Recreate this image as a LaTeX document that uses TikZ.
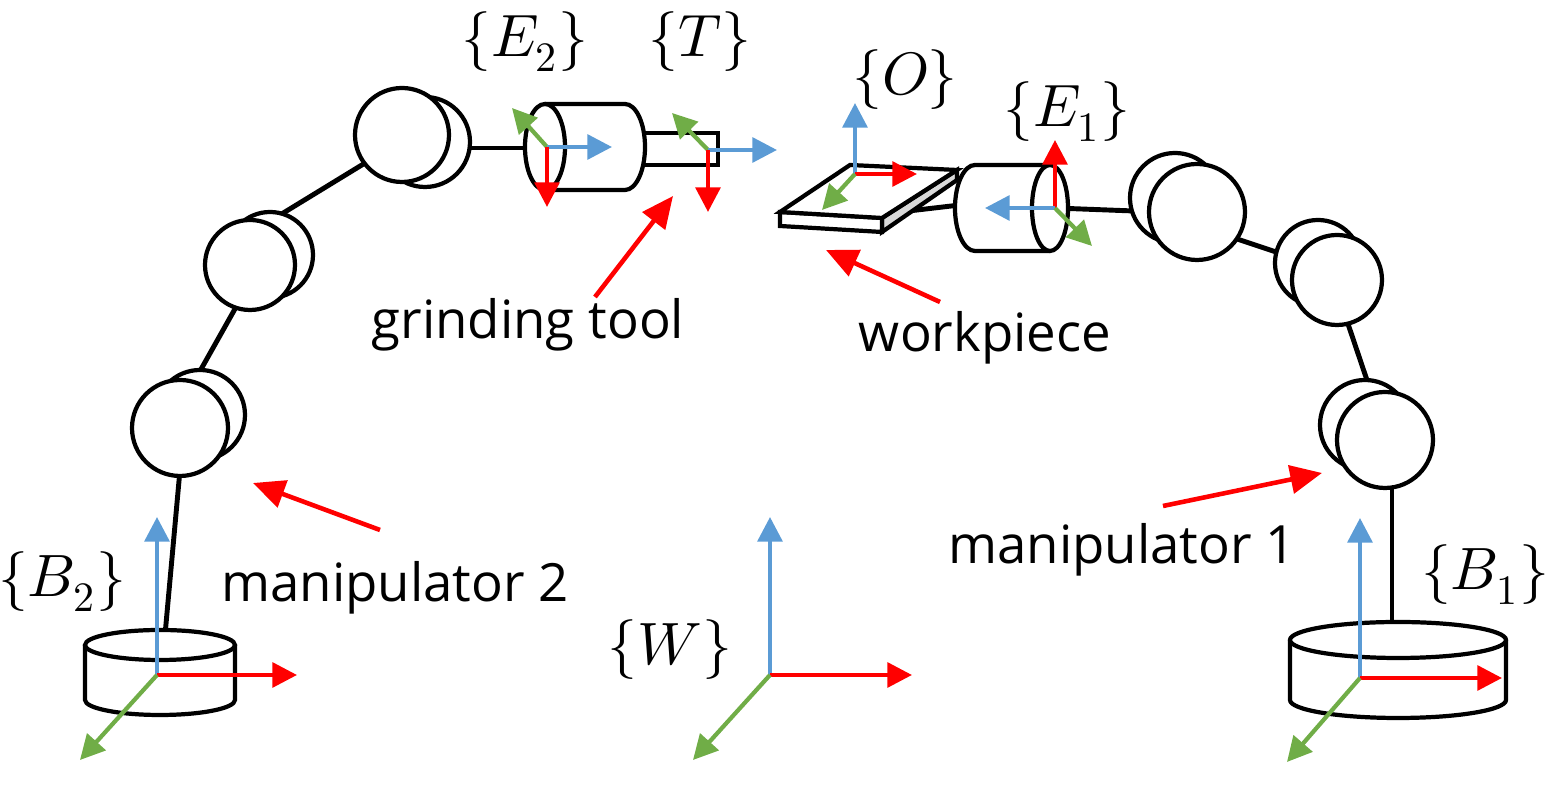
\documentclass[tikz,border=0pt]{standalone}
\usepackage{fontspec}
\setmainfont{Open Sans}
\usepackage{unicode-math}
\setmathfont{Latin Modern Math}
\usetikzlibrary{arrows.meta}
\definecolor{ax}{HTML}{5B9BD5}
\definecolor{ay}{HTML}{70AD47}
\definecolor{az}{HTML}{FF0000}
\begin{document}
\begin{tikzpicture}[x=0.01cm,y=-0.01cm,
  part/.style={draw=black,line width=1.2pt,fill=white},
  link/.style={draw=black,line width=1.4pt},
  axis/.style={line width=1.2pt,-{Triangle[length=7pt,width=7pt]}},
  bx/.style={axis,ax},gx/.style={axis,ay},rx/.style={axis,az},
  ptr/.style={line width=1.3pt,az,-{Triangle[length=9pt,width=8pt]}},
  lab/.style={font=\fontsize{15}{18}\selectfont},
  frm/.style={font=\fontsize{17}{20}\selectfont}]
\useasboundingbox (0,0) rectangle (1553,786);
% links
\draw[link] (165,635) -- (180,470);
\draw[link] (195,380) -- (240,300);
\draw[link] (280,215) -- (370,160);
\draw[link] (445,148) -- (535,148);
\draw[link] (900,212) -- (960,205);
\draw[link] (1055,208) -- (1160,212);
\draw[link] (1225,235) -- (1300,260);
\draw[link] (1345,315) -- (1372,395);
\draw[link] (1392,480) -- (1392,630);
% left base
\draw[part] (85,645) -- (85,700) arc[start angle=180,end angle=0,x radius=75,y radius=15] -- (235,645);
\draw[part] (160,645) ellipse[x radius=75,y radius=15];
% right base
\draw[part] (1290,640) -- (1290,700) arc[start angle=180,end angle=0,x radius=108,y radius=18] -- (1506,640);
\draw[part] (1398,640) ellipse[x radius=108,y radius=18];
% left joints
\draw[part] (200,415) circle[radius=45]; \draw[part] (180,428) circle[radius=48];
\draw[part] (270,255) circle[radius=43]; \draw[part] (250,265) circle[radius=45];
\draw[part] (425,142) circle[radius=45]; \draw[part] (402,135) circle[radius=47];
% right joints
\draw[part] (1175,198) circle[radius=45]; \draw[part] (1197,212) circle[radius=48];
\draw[part] (1318,263) circle[radius=43]; \draw[part] (1337,280) circle[radius=45];
\draw[part] (1365,425) circle[radius=45]; \draw[part] (1385,440) circle[radius=48];
% grinding tool
\draw[part] (600,133) rectangle (718,165);
\draw[part] (545,104) -- (625,104) arc[start angle=270,end angle=450,x radius=20,y radius=43] -- (545,190);
\draw[part] (545,147) ellipse[x radius=20,y radius=43];
% workpiece
\draw[part,fill=gray!30] (882,218) -- (957,170) -- (957,180) -- (882,232) -- cycle;
\draw[part] (780,212) -- (882,218) -- (882,232) -- (780,226) -- cycle;
\draw[part] (780,212) -- (850,165) -- (957,170) -- (882,218) -- cycle;
% E1 cylinder
\draw[part] (1050,165) -- (975,165) arc[start angle=270,end angle=90,x radius=20,y radius=43] -- (1050,251);
\draw[part] (1050,208) ellipse[x radius=18,y radius=43];
% frames
\coordinate (e2) at (547,147);
\draw[gx] (e2) -- (512,108); \draw[bx] (e2) -- (612,147); \draw[rx] (e2) -- (547,207);
\coordinate (t) at (708,150);
\draw[gx] (t) -- (672,113); \draw[bx] (t) -- (777,150); \draw[rx] (t) -- (708,212);
\coordinate (o) at (855,174);
\draw[bx] (o) -- (855,103); \draw[rx] (o) -- (917,174); \draw[gx] (o) -- (822,210);
\coordinate (e1) at (1055,208);
\draw[rx] (e1) -- (1055,140); \draw[bx] (e1) -- (985,208); \draw[gx] (e1) -- (1092,246);
\coordinate (b2) at (157,675);
\draw[bx] (b2) -- (157,517); \draw[rx] (b2) -- (297,675); \draw[gx] (b2) -- (80,760);
\coordinate (w) at (770,675);
\draw[bx] (w) -- (770,517); \draw[rx] (w) -- (912,675); \draw[gx] (w) -- (693,760);
\coordinate (b1) at (1360,678);
\draw[bx] (b1) -- (1360,518); \draw[rx] (b1) -- (1502,678); \draw[gx] (b1) -- (1287,762);
% labels
\node[frm] (le2) at (525,42) {$\{E_2\}$};
\node[frm] (lt) at (700,42) {$\{T\}$};
\node[frm] (lo) at (905,80) {$\{O\}$};
\node[frm] (le1) at (1067,112) {$\{E_1\}$};
\node[frm] (lb2) at (62,582) {$\{B_2\}$};
\node[frm] (lb1) at (1485,575) {$\{B_1\}$};
\node[frm] (lw) at (670,650) {$\{W\}$};
\node[lab] (gt) at (528,325) {grinding tool};
\node[lab] (wp) at (985,338) {workpiece};
\node[lab] (m2) at (395,588) {manipulator 2};
\node[lab] (m1) at (1122,550) {manipulator 1};
\coordinate (gtp) at (673,196); \coordinate (wpp) at (826,250);
\coordinate (m2p) at (253,483); \coordinate (m1p) at (1322,473);
\draw[ptr] (595,297) -- (gtp);
\draw[ptr] (940,302) -- (wpp);
\draw[ptr] (380,530) -- (m2p);
\draw[ptr] (1163,506) -- (m1p);
\end{tikzpicture}
\end{document}
